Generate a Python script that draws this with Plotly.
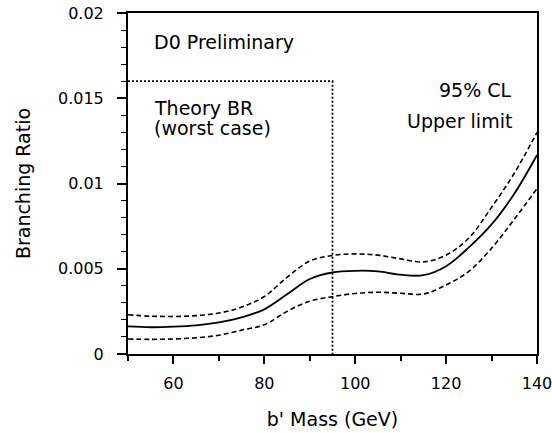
import plotly.graph_objects as go

# b' mass (GeV)
mass = [50, 55, 60, 65, 70, 75, 80, 85, 90, 95, 100, 105, 110, 115, 120, 125, 130, 135, 140]
# 95% CL upper limit on branching ratio (central) and its band
br_limit = [0.00162, 0.00157, 0.00160, 0.00168, 0.00185, 0.00215, 0.00262, 0.00350, 0.00440,
            0.00478, 0.00488, 0.00485, 0.00465, 0.00462, 0.00515, 0.00625, 0.00760, 0.00940, 0.01167]
br_upper = [0.00230, 0.00222, 0.00220, 0.00225, 0.00240, 0.00275, 0.00337, 0.00450, 0.00545,
            0.00578, 0.00587, 0.00580, 0.00558, 0.00540, 0.00580, 0.00680, 0.00860, 0.01060, 0.01300]
br_lower = [0.00088, 0.00086, 0.00088, 0.00095, 0.00110, 0.00140, 0.00172, 0.00250, 0.00310,
            0.00336, 0.00355, 0.00362, 0.00356, 0.00352, 0.00405, 0.00485, 0.00620, 0.00790, 0.00970]

# Theory BR (worst case) box
theory_mass = [50, 95, 95]
theory_br = [0.016, 0.016, 0.0]

x_ticks = [60, 80, 100, 120, 140]
x_ticklabels = ["60", "80", "100", "120", "140"]
y_ticks = [0, 0.005, 0.01, 0.015, 0.02]
y_ticklabels = ["0", "0.005", "0.01", "0.015", "0.02"]

FONT = "DejaVu Sans"

fig = go.Figure()
fig.add_trace(go.Scatter(x=theory_mass, y=theory_br, mode="lines",
                         line=dict(color="black", width=1.8, dash="2px,2px"),
                         hoverinfo="skip", showlegend=False))
fig.add_trace(go.Scatter(x=mass, y=br_upper, mode="lines",
                         line=dict(color="black", width=1.6, dash="5px,3px", shape="spline"),
                         showlegend=False))
fig.add_trace(go.Scatter(x=mass, y=br_lower, mode="lines",
                         line=dict(color="black", width=1.6, dash="5px,3px", shape="spline"),
                         showlegend=False))
fig.add_trace(go.Scatter(x=mass, y=br_limit, mode="lines",
                         line=dict(color="black", width=1.8, shape="spline"),
                         showlegend=False))

ann_font = dict(family=FONT, size=19, color="black")
fig.add_annotation(x=55.2, y=0.0183, text="D0 Preliminary", showarrow=False,
                   xanchor="left", yanchor="middle", font=ann_font)
fig.add_annotation(x=55.2, y=0.01443, text="Theory BR", showarrow=False,
                   xanchor="left", yanchor="middle", font=ann_font)
fig.add_annotation(x=55.2, y=0.01323, text="(worst case)", showarrow=False,
                   xanchor="left", yanchor="middle", font=ann_font)
fig.add_annotation(x=134.9, y=0.01548, text="95% CL", showarrow=False,
                   xanchor="right", yanchor="middle", font=ann_font)
fig.add_annotation(x=134.9, y=0.01367, text="Upper limit", showarrow=False,
                   xanchor="right", yanchor="middle", font=ann_font)

fig.update_layout(
    width=552, height=433,
    margin=dict(l=128, r=15, t=13, b=79, autoexpand=False),
    paper_bgcolor="white", plot_bgcolor="white",
    font=dict(family=FONT, color="black", size=16),
    showlegend=False,
)
fig.update_xaxes(
    range=[50, 140], tickvals=x_ticks, ticktext=x_ticklabels,
    showgrid=False, zeroline=False, showline=True, linecolor="black", linewidth=2,
    mirror=True, ticks="outside", ticklen=8, tickwidth=1.5, tickcolor="black",
    ticklabelstandoff=6, ticklabeloverflow="allow",
    tickfont=dict(family=FONT, size=16),
    minor=dict(tickvals=[50, 70, 90, 110, 130], ticks="outside", ticklen=5, tickwidth=1.5, tickcolor="black"),
    title=dict(text="b' Mass (GeV)", font=dict(family=FONT, size=19), standoff=20),
)
fig.update_yaxes(
    range=[0, 0.02], tickvals=y_ticks, ticktext=y_ticklabels,
    showgrid=False, zeroline=False, showline=True, linecolor="black", linewidth=2,
    mirror=True, ticks="outside", ticklen=9, tickwidth=1.5, tickcolor="black",
    ticklabelstandoff=10, ticklabeloverflow="allow",
    tickfont=dict(family=FONT, size=16),
    minor=dict(dtick=0.001, ticks="outside", ticklen=5, tickwidth=1.2, tickcolor="black"),
    title=dict(text="Branching Ratio", font=dict(family=FONT, size=19), standoff=22),
)

fig.write_html("out.html")
